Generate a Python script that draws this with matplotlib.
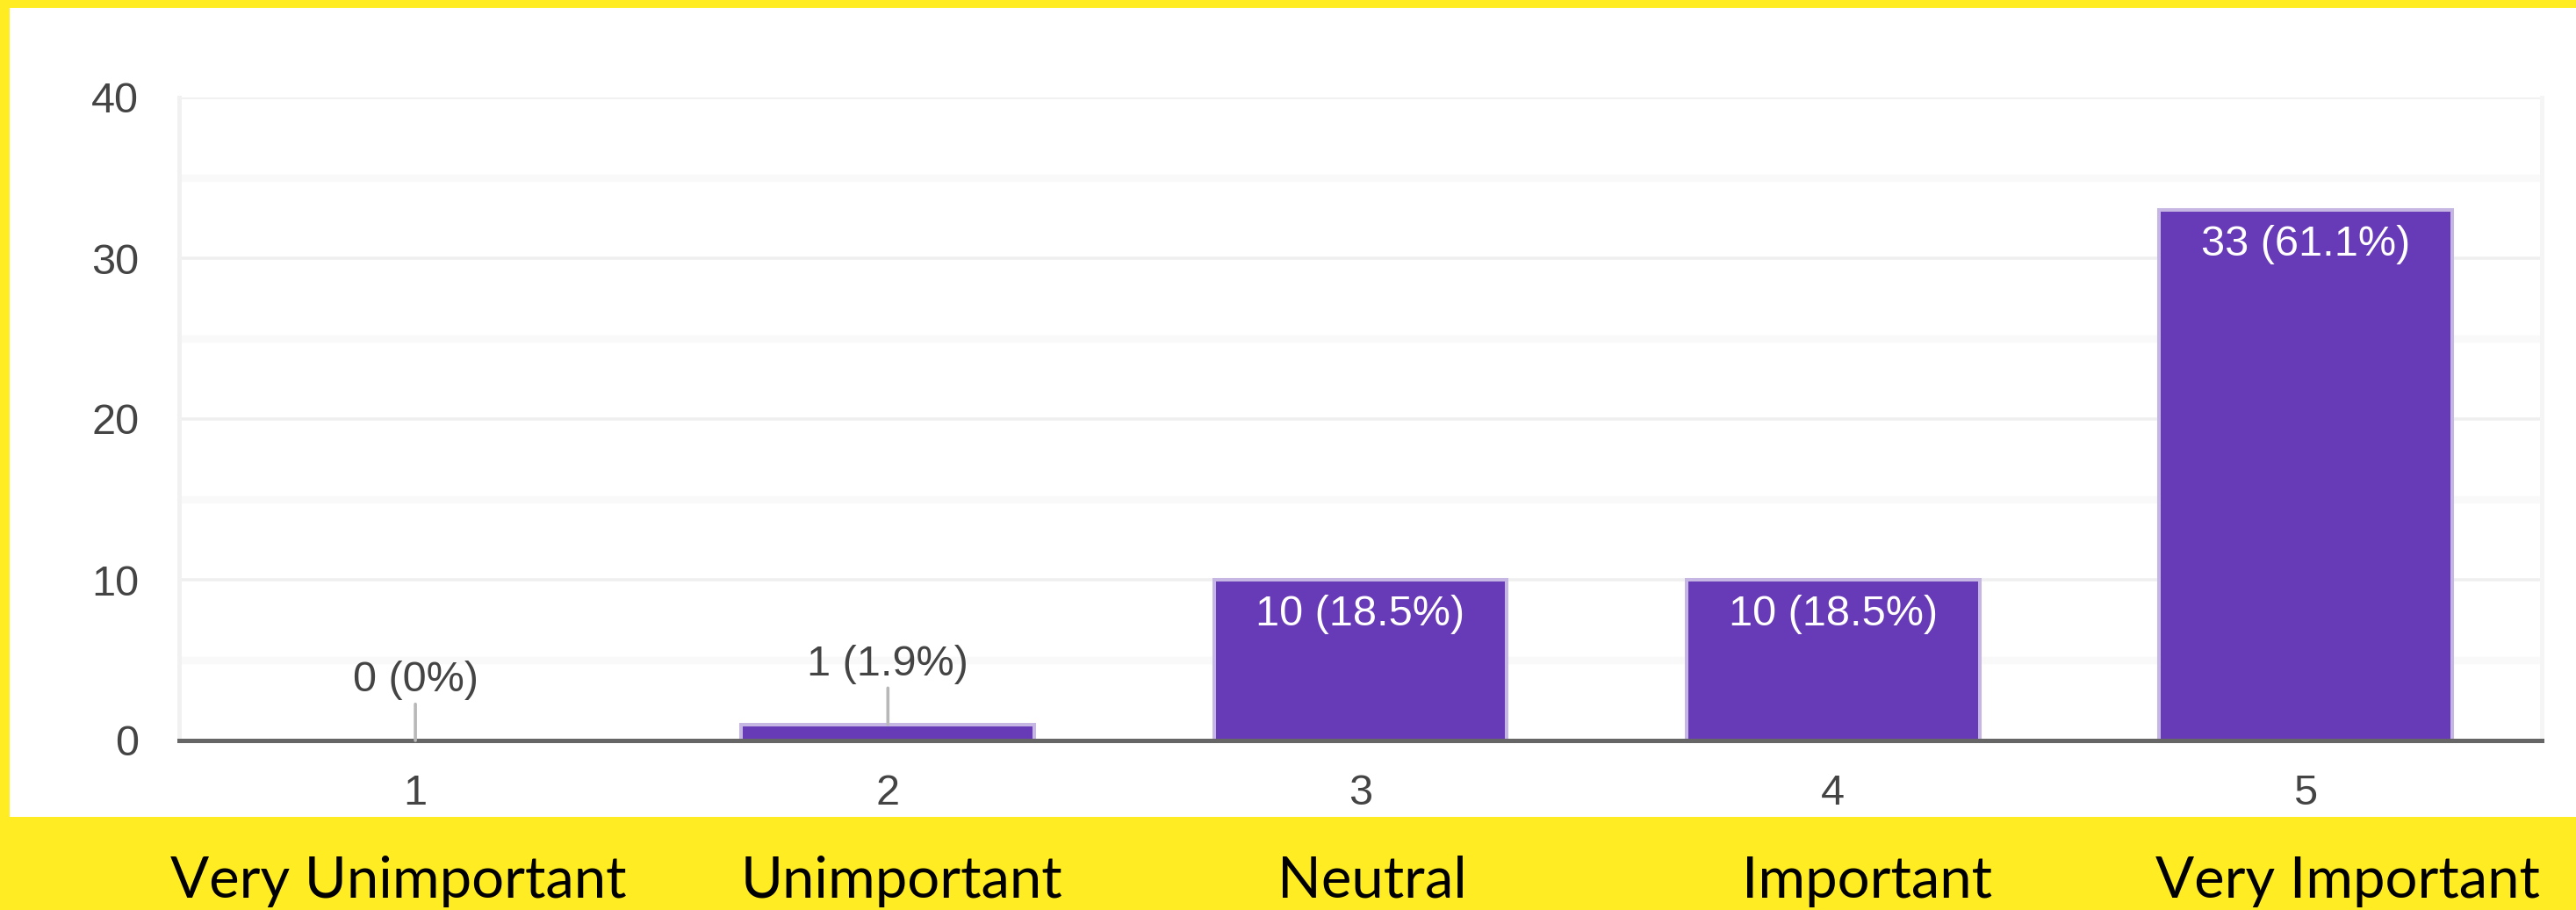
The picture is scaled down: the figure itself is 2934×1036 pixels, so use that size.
import matplotlib.pyplot as plt
from matplotlib.patches import Rectangle

# survey answers on a 1-5 scale
scale = [1, 2, 3, 4, 5]
counts = [0, 1, 10, 10, 33]
scale_names = ["Very Unimportant", "Unimportant", "Neutral", "Important", "Very Important"]
name_x = [454, 1027, 1563, 2127, 2674]  # pixel centres of the names in the bottom strip

W, H = 2934, 1036
total = sum(counts)

plt.rcParams['font.family'] = ['Liberation Sans', 'DejaVu Sans']

fig = plt.figure(figsize=(W / 100, H / 100), dpi=100)
fig.patch.set_facecolor('#ffec22')

# white card that holds the chart
fig.add_artist(Rectangle((11 / W, (H - 930) / H), 1 - 11 / W, (930 - 9) / H,
                         transform=fig.transFigure, facecolor='white',
                         edgecolor='none', zorder=0))

ax = fig.add_axes([204 / W, (H - 843) / H, (2895 - 204) / W, (843 - 111) / H])
ax.set_facecolor('white')
ax.set_axisbelow(True)

ax.bar(scale, counts, width=0.62, color='#673ab7', edgecolor='#c6b6e4',
       linewidth=2.9, zorder=2)

for x, c in zip(scale, counts):
    pct = round(100 * c / total, 1)
    label = f"{c} ({pct:g}%)"
    if c >= 5:
        ax.annotate(label, xy=(x, c), xytext=(0, -37.5), textcoords='offset points',
                    ha='center', va='baseline', fontsize=35, color='white', zorder=4)
    else:
        ax.annotate(label, xy=(x, c), xytext=(0, 40), textcoords='offset points',
                    ha='center', va='baseline', fontsize=35, color='#444444',
                    arrowprops=dict(arrowstyle='-', color='#b8b8b8', lw=2.6,
                                    shrinkA=1, shrinkB=0),
                    zorder=4)

ax.set_xlim(0.5, 5.5)
ax.set_ylim(0, 40)
ax.set_xticks(scale)
ax.set_xticklabels([str(s) for s in scale])
ax.set_yticks(range(0, 41, 10))
ax.set_yticks(range(5, 40, 10), minor=True)
ax.tick_params(axis='both', which='both', length=0, labelsize=35, labelcolor='#444444')
ax.tick_params(axis='y', pad=33)
ax.tick_params(axis='x', pad=27)

ax.grid(axis='y', which='major', color='#efefef', linewidth=2.6)
ax.grid(axis='y', which='minor', color='#f9f9f9', linewidth=6)

ax.spines['top'].set_visible(False)
ax.spines['left'].set_color('#f1f1f1')
ax.spines['left'].set_linewidth(3.6)
ax.spines['right'].set_color('#f5f5f5')
ax.spines['right'].set_linewidth(3.6)
ax.spines['bottom'].set_color('#666666')
ax.spines['bottom'].set_linewidth(3.6)
ax.spines['bottom'].set_zorder(3)

# category names under the chart
for px, name in zip(name_x, scale_names):
    fig.text(px / W, 14 / H, name, ha='center', va='baseline', fontsize=47,
             family=['Lato', 'DejaVu Sans'], color='black')

fig.savefig('out.png', dpi=100, facecolor=fig.get_facecolor())
